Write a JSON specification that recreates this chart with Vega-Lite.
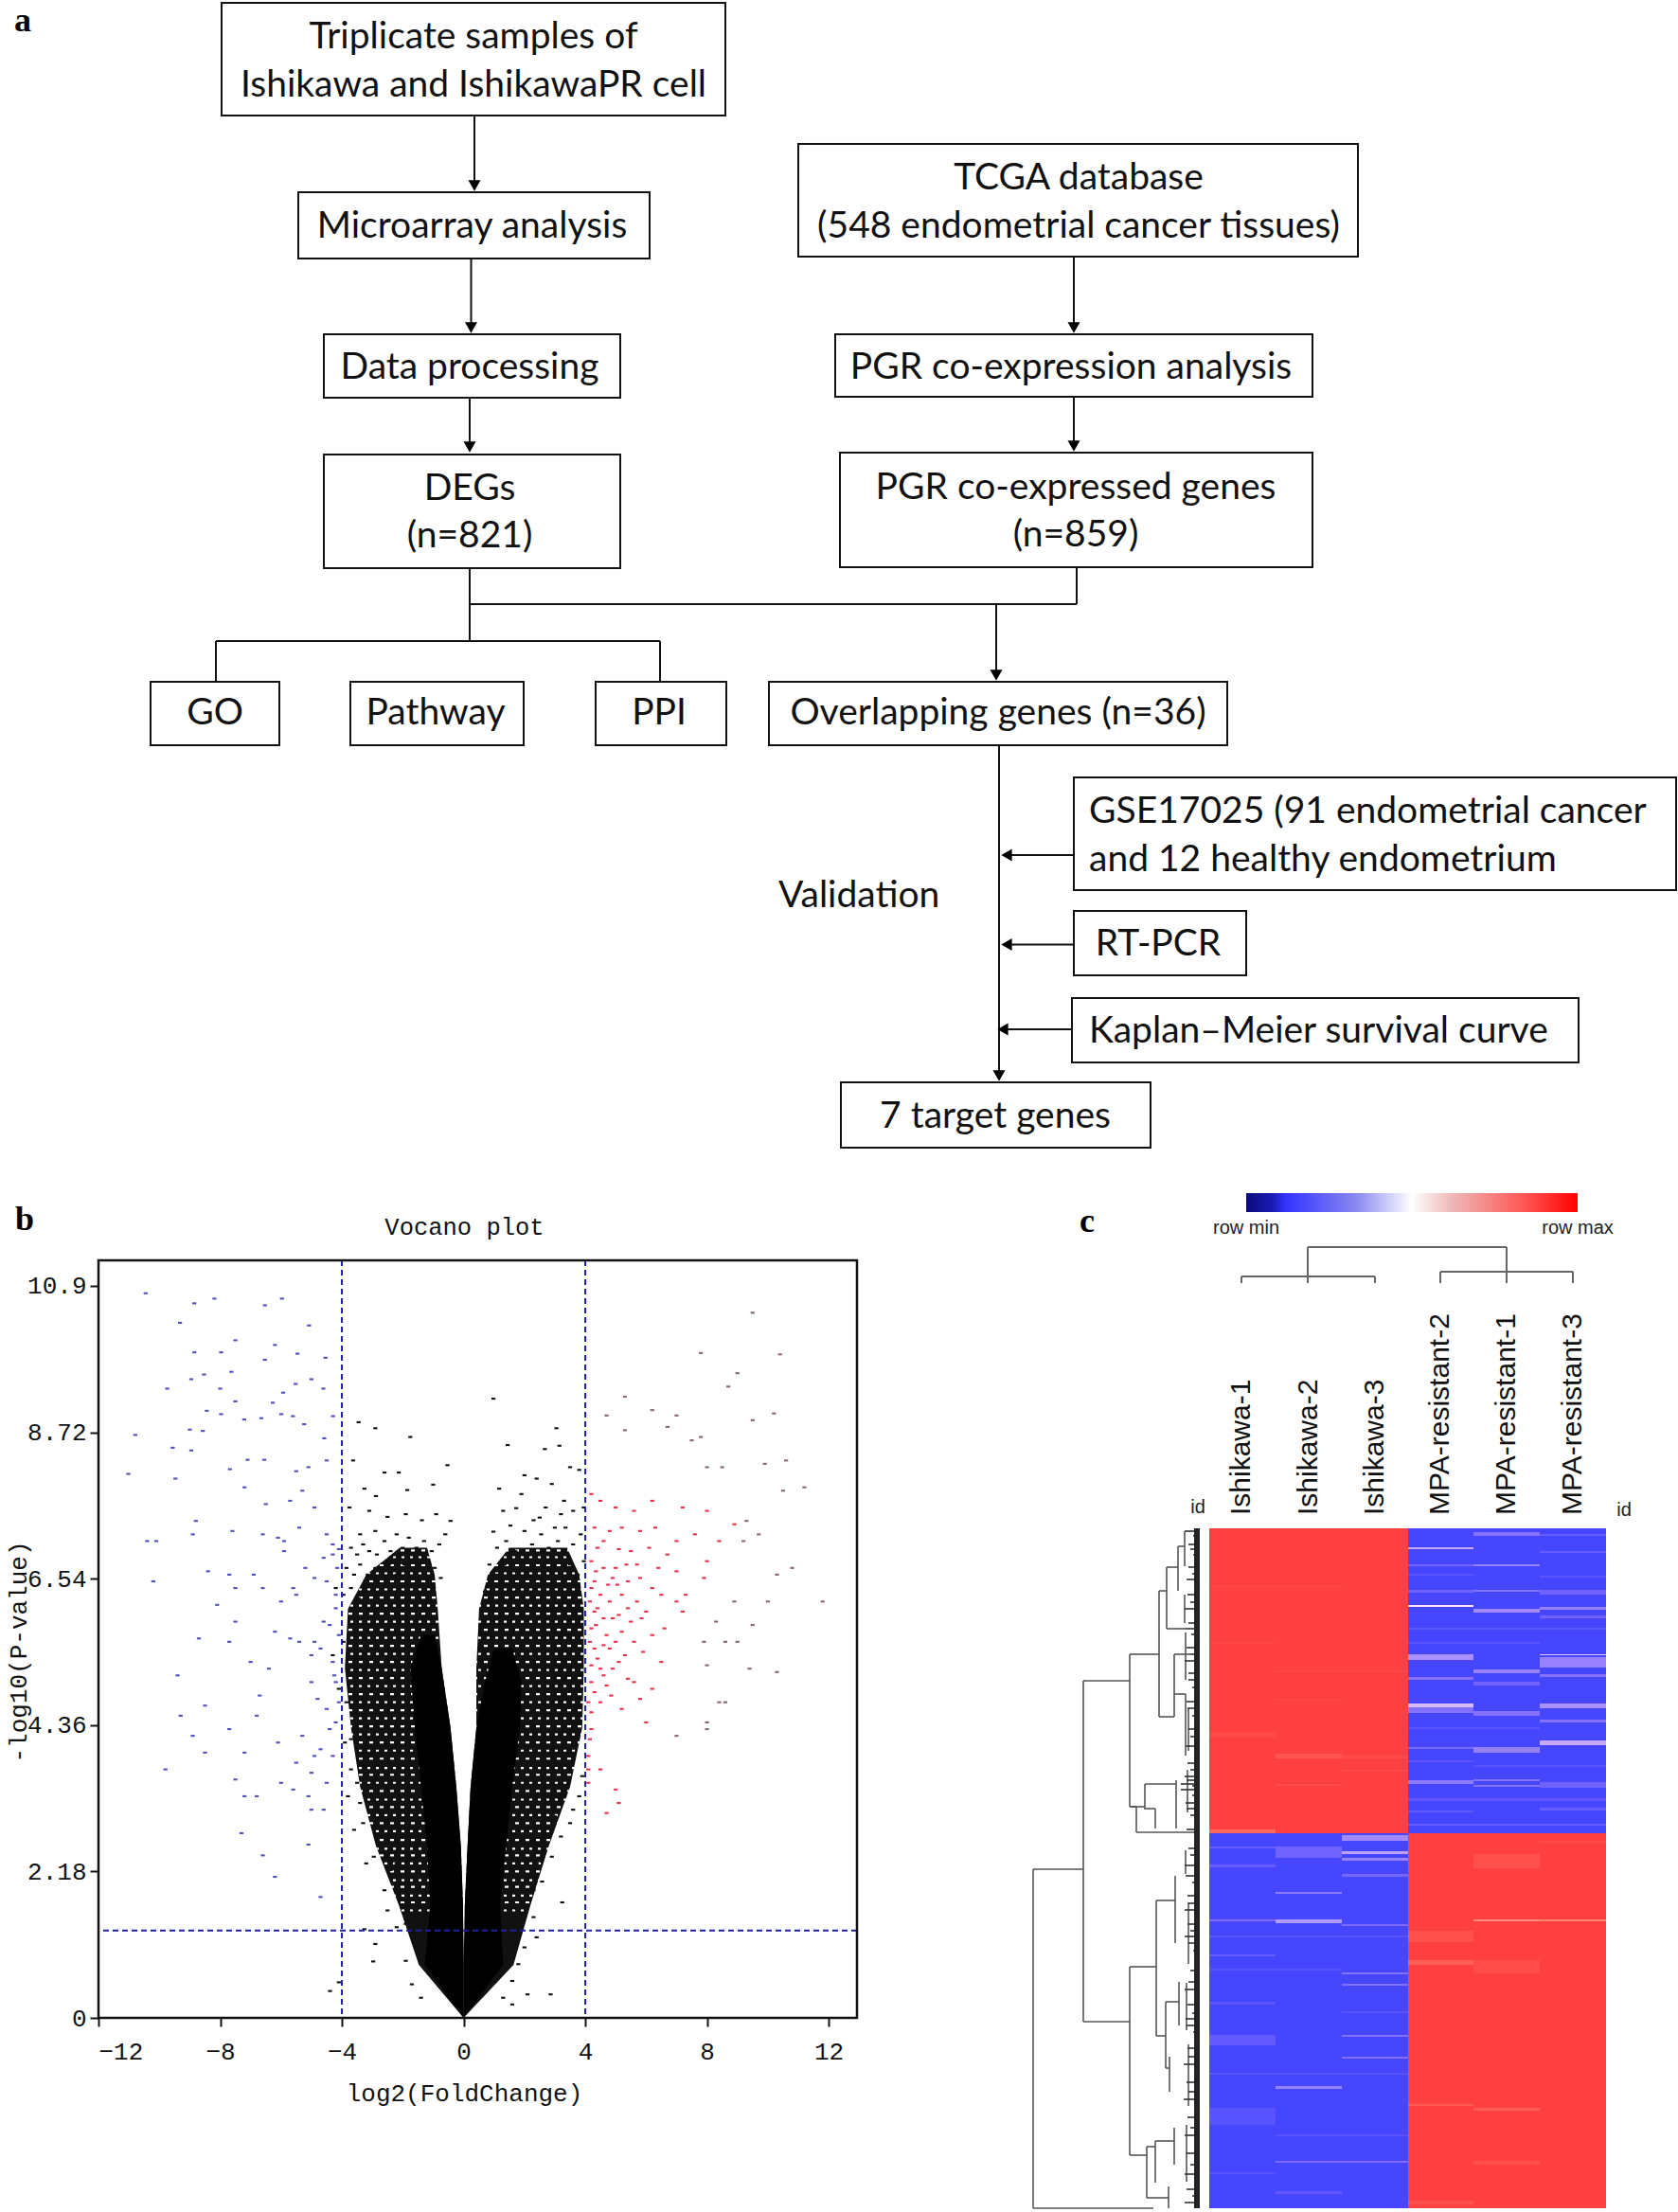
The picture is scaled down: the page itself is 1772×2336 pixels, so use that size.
{"$schema":"https://vega.github.io/schema/vega-lite/v6.json","padding":0,"bounds":"flush","spacing":0,"background":"white","config":{"view":{"stroke":null},"text":{"font":"Lato"}},
"datasets":{
"boxes":[{"a":234,"b":766,"t":3,"u":122},{"a":315,"b":686,"t":203,"u":273},{"a":342,"b":655,"t":353,"u":420},{"a":342,"b":655,"t":480,"u":600},{"a":843,"b":1434,"t":152,"u":271},{"a":882,"b":1386,"t":353,"u":419},{"a":887,"b":1386,"t":478,"u":599},{"a":159,"b":295,"t":720,"u":787},{"a":370,"b":553,"t":720,"u":787},{"a":629,"b":767,"t":720,"u":787},{"a":812,"b":1296,"t":720,"u":787},{"a":1134,"b":1770,"t":821,"u":940},{"a":1134,"b":1316,"t":962,"u":1030},{"a":1132,"b":1667,"t":1054,"u":1122},{"a":888,"b":1215,"t":1143,"u":1212}],
"links":[{"a":501,"b":501,"t":122,"u":195},{"a":497.5,"b":497.5,"t":273,"u":345},{"a":496,"b":496,"t":420,"u":471},{"a":1134,"b":1134,"t":271,"u":345},{"a":1134,"b":1134,"t":419,"u":470},{"a":496,"b":496,"t":600,"u":677},{"a":496,"b":1137,"t":638,"u":638},{"a":1137,"b":1137,"t":599,"u":638},{"a":228,"b":697,"t":677,"u":677},{"a":228,"b":228,"t":677,"u":720},{"a":697,"b":697,"t":677,"u":720},{"a":1052,"b":1052,"t":638,"u":712},{"a":1055,"b":1055,"t":787,"u":1135},{"a":1064,"b":1134,"t":903,"u":903},{"a":1064,"b":1134,"t":997.5,"u":997.5},{"a":1060,"b":1132,"t":1087,"u":1087}],
"heads":[{"x":501,"y":196,"s":"triangle-down"},{"x":497.5,"y":346,"s":"triangle-down"},{"x":496,"y":472,"s":"triangle-down"},{"x":1134,"y":346,"s":"triangle-down"},{"x":1134,"y":471,"s":"triangle-down"},{"x":1052,"y":713,"s":"triangle-down"},{"x":1055,"y":1136,"s":"triangle-down"},{"x":1063,"y":903,"s":"triangle-left"},{"x":1063,"y":997.5,"s":"triangle-left"},{"x":1059,"y":1087,"s":"triangle-left"}],
"labels":[{"x":500,"y":37,"t":"Triplicate samples of"},{"x":500,"y":88,"t":"Ishikawa and IshikawaPR cell"},{"x":498.5,"y":237,"t":"Microarray analysis"},{"x":496,"y":386,"t":"Data processing"},{"x":496,"y":514,"t":"DEGs"},{"x":496,"y":564,"t":"(n=821)"},{"x":1139,"y":186,"t":"TCGA database"},{"x":1139,"y":237,"t":"(548 endometrial cancer tissues)"},{"x":1131,"y":386,"t":"PGR co-expression analysis"},{"x":1136,"y":513,"t":"PGR co-expressed genes"},{"x":1136,"y":563,"t":"(n=859)"},{"x":227,"y":751,"t":"GO"},{"x":460,"y":751,"t":"Pathway"},{"x":696,"y":751,"t":"PPI"},{"x":1054,"y":751,"t":"Overlapping genes (n=36)"},{"x":1223,"y":995,"t":"RT-PCR"},{"x":1051,"y":1177,"t":"7 target genes"}],
"labelsL":[{"x":1150,"y":855,"t":"GSE17025 (91 endometrial cancer"},{"x":1150,"y":906,"t":"and 12 healthy endometrium"},{"x":1150,"y":1087,"t":"Kaplan–Meier survival curve"},{"x":822,"y":944,"t":"Validation"}],
"panels":[{"x":24,"y":22,"t":"a"},{"x":26,"y":1288,"t":"b"},{"x":1148,"y":1290,"t":"c"}],
"env":[
{"l":1,"arm":"L","y":0,"p":0,"q":0},{"l":1,"arm":"L","y":0.79,"p":-1.47,"q":0},{"l":1,"arm":"L","y":1.68,"p":-2.13,"q":-0.02},{"l":1,"arm":"L","y":2.56,"p":-2.88,"q":-0.09},{"l":1,"arm":"L","y":3.44,"p":-3.4,"q":-0.24},{"l":1,"arm":"L","y":4.32,"p":-3.7,"q":-0.43},{"l":1,"arm":"L","y":5.21,"p":-3.9,"q":-0.72},{"l":1,"arm":"L","y":6.09,"p":-3.8,"q":-0.85},{"l":1,"arm":"L","y":6.6,"p":-3.2,"q":-0.95},{"l":1,"arm":"L","y":7,"p":-2.1,"q":-1.2},
{"l":1,"arm":"R","y":0,"p":0,"q":0},{"l":1,"arm":"R","y":0.79,"p":0.05,"q":1.64},{"l":1,"arm":"R","y":1.68,"p":0.04,"q":2.2},{"l":1,"arm":"R","y":2.56,"p":0.13,"q":2.8},{"l":1,"arm":"R","y":3.44,"p":0.23,"q":3.5},{"l":1,"arm":"R","y":4.32,"p":0.42,"q":3.9},{"l":1,"arm":"R","y":5.21,"p":0.42,"q":3.95},{"l":1,"arm":"R","y":6.09,"p":0.51,"q":3.95},{"l":1,"arm":"R","y":6.6,"p":0.8,"q":3.8},{"l":1,"arm":"R","y":7,"p":1.5,"q":3.4},
{"l":3,"arm":"L","y":0,"p":0,"q":0},{"l":3,"arm":"L","y":0.79,"p":-1.28,"q":0},{"l":3,"arm":"L","y":1.68,"p":-1.1,"q":-0.02},{"l":3,"arm":"L","y":2.56,"p":-1.2,"q":-0.09},{"l":3,"arm":"L","y":3.44,"p":-1.4,"q":-0.24},{"l":3,"arm":"L","y":4.32,"p":-1.6,"q":-0.43},{"l":3,"arm":"L","y":5.21,"p":-1.75,"q":-0.72},{"l":3,"arm":"L","y":5.7,"p":-1.4,"q":-0.95},
{"l":3,"arm":"R","y":0,"p":0,"q":0},{"l":3,"arm":"R","y":0.79,"p":0,"q":1.3},{"l":3,"arm":"R","y":1.68,"p":0.04,"q":1.2},{"l":3,"arm":"R","y":2.56,"p":0.13,"q":1.4},{"l":3,"arm":"R","y":3.44,"p":0.23,"q":1.6},{"l":3,"arm":"R","y":4.32,"p":0.42,"q":1.85},{"l":3,"arm":"R","y":5,"p":0.7,"q":1.9},{"l":3,"arm":"R","y":5.5,"p":1,"q":1.6}],
"speckA":[{"y":1.6},{"y":1.82},{"y":2.05},{"y":2.3},{"y":2.52},{"y":2.78},{"y":3.02},{"y":3.25},{"y":3.5},{"y":3.72},{"y":3.98},{"y":4.22},{"y":4.46},{"y":4.7},{"y":4.94},{"y":5.18},{"y":5.42},{"y":5.66},{"y":5.9},{"y":6.14},{"y":6.38},{"y":6.62},{"y":6.86}],
"speckB":[{"y":1.72},{"y":1.95},{"y":2.18},{"y":2.42},{"y":2.65},{"y":2.9},{"y":3.14},{"y":3.38},{"y":3.62},{"y":3.86},{"y":4.1},{"y":4.34},{"y":4.58},{"y":4.82},{"y":5.06},{"y":5.3},{"y":5.54},{"y":5.78},{"y":6.02},{"y":6.26},{"y":6.5},{"y":6.74},{"y":6.96}],
"blue":[{"x":-10.45,"y":10.79},{"x":-8.85,"y":10.64},{"x":-8.19,"y":10.71},{"x":-6.53,"y":10.61},{"x":-5.97,"y":10.71},{"x":-9.32,"y":10.35},{"x":-5.08,"y":10.31},{"x":-7.5,"y":10.09},{"x":-6.2,"y":10.02},{"x":-8.85,"y":9.91},{"x":-7.97,"y":9.91},{"x":-6.53,"y":9.8},{"x":-5.46,"y":9.89},{"x":-4.54,"y":9.83},{"x":-8.95,"y":9.51},{"x":-8.53,"y":9.58},{"x":-7.63,"y":9.62},{"x":-9.74,"y":9.37},{"x":-8,"y":9.37},{"x":-5.52,"y":9.44},{"x":-5,"y":9.51},{"x":-5.93,"y":9.31},{"x":-4.61,"y":9.37},{"x":-7.5,"y":9.18},{"x":-6.27,"y":9.16},{"x":-8.44,"y":9.04},{"x":-7.97,"y":8.99},{"x":-7.21,"y":8.91},{"x":-6.65,"y":8.93},{"x":-5.99,"y":8.99},{"x":-5.61,"y":8.96},{"x":-5.24,"y":8.84},{"x":-4.29,"y":8.96},{"x":-10.79,"y":8.68},{"x":-9,"y":8.76},{"x":-8.57,"y":8.74},{"x":-4.58,"y":8.63},{"x":-9.56,"y":8.49},{"x":-8.95,"y":8.45},{"x":-7.1,"y":8.31},{"x":-6.55,"y":8.31},{"x":-11.02,"y":8.1},{"x":-9.47,"y":8.03},{"x":-7.68,"y":8.17},{"x":-5.5,"y":8.14},{"x":-5.1,"y":8.2},{"x":-4.5,"y":8.3},{"x":-5.3,"y":7.85},{"x":-5.7,"y":7.7},{"x":-4.9,"y":7.6},{"x":-7.2,"y":7.9},{"x":-6.5,"y":7.65},{"x":-8.8,"y":7.4},{"x":-8.9,"y":7.2},{"x":-7.6,"y":7.25},{"x":-6.6,"y":7.2},{"x":-6.1,"y":7.15},{"x":-5.9,"y":7.1},{"x":-5.4,"y":7.3},{"x":-4.5,"y":7.2},{"x":-4.3,"y":7.05},{"x":-4.1,"y":6.98},{"x":-10.4,"y":7.1},{"x":-10.1,"y":7.1},{"x":-8.4,"y":6.65},{"x":-7.7,"y":6.6},{"x":-6.9,"y":6.6},{"x":-5.2,"y":6.7},{"x":-4.9,"y":6.55},{"x":-4.5,"y":6.5},{"x":-10.2,"y":6.5},{"x":-7.5,"y":6.4},{"x":-6.6,"y":6.4},{"x":-6,"y":6.2},{"x":-5.5,"y":6.3},{"x":-4.2,"y":6.1},{"x":-8.1,"y":6.15},{"x":-7.5,"y":5.9},{"x":-4.6,"y":5.9},{"x":-4.4,"y":5.85},{"x":-8.7,"y":5.65},{"x":-7.7,"y":5.6},{"x":-6.2,"y":5.75},{"x":-5.7,"y":5.65},{"x":-5.4,"y":5.6},{"x":-4.9,"y":5.6},{"x":-5,"y":5.4},{"x":-4.3,"y":5.3},{"x":-7,"y":5.3},{"x":-9.4,"y":5.1},{"x":-6.4,"y":5.2},{"x":-5,"y":5},{"x":-4.2,"y":5},{"x":-6.7,"y":4.8},{"x":-8.5,"y":4.65},{"x":-6.8,"y":4.5},{"x":-4.5,"y":4.6},{"x":-9.3,"y":4.5},{"x":-7.7,"y":4.3},{"x":-4.2,"y":4.4},{"x":-8.9,"y":4.2},{"x":-6.1,"y":4.1},{"x":-5.3,"y":4.2},{"x":-4.7,"y":4},{"x":-8.5,"y":3.95},{"x":-7.2,"y":3.95},{"x":-5.5,"y":3.8},{"x":-5,"y":3.65},{"x":-9.8,"y":3.7},{"x":-7.5,"y":3.55},{"x":-6,"y":3.5},{"x":-5.6,"y":3.4},{"x":-5.1,"y":3.3},{"x":-7.2,"y":3.3},{"x":-6.8,"y":3.3},{"x":-5,"y":3.1},{"x":-4.6,"y":3.1},{"x":-7.3,"y":2.75},{"x":-6.6,"y":2.42},{"x":-5.1,"y":2.58},{"x":-6.2,"y":2.1},{"x":-4.7,"y":1.8},{"x":-4.3,"y":6.9},{"x":-4.15,"y":6.7},{"x":-4.6,"y":6.85},{"x":-4.2,"y":6.3},{"x":-4.1,"y":5.7},{"x":-4.7,"y":5.5},{"x":-4.25,"y":5.1},{"x":-4.1,"y":4.7},{"x":-4.8,"y":4.75},{"x":-4.4,"y":4.3},{"x":-4.3,"y":3.9},{"x":-4.9,"y":3.9},{"x":-4.5,"y":3.5},{"x":-5.9,"y":6.95},{"x":-5.6,"y":6.4}],
"red":[{"x":4.2,"y":7.8},{"x":4.5,"y":7.7},{"x":5,"y":7.6},{"x":5.6,"y":7.55},{"x":6.2,"y":7.7},{"x":7.2,"y":7.6},{"x":8,"y":7.55},{"x":8.9,"y":7.35},{"x":4.3,"y":7.3},{"x":4.8,"y":7.25},{"x":5.2,"y":7.3},{"x":5.8,"y":7.25},{"x":6.3,"y":7.3},{"x":7,"y":7.1},{"x":7.6,"y":7.2},{"x":8.4,"y":7.1},{"x":4.4,"y":7},{"x":5.1,"y":6.98},{"x":5.5,"y":6.95},{"x":6.1,"y":7},{"x":6.7,"y":6.9},{"x":8,"y":6.8},{"x":4.2,"y":6.8},{"x":4.6,"y":6.7},{"x":5,"y":6.7},{"x":5.7,"y":6.75},{"x":6.4,"y":6.7},{"x":7,"y":6.65},{"x":7.9,"y":6.55},{"x":4.3,"y":6.5},{"x":4.9,"y":6.55},{"x":5.4,"y":6.5},{"x":5.8,"y":6.55},{"x":6.2,"y":6.4},{"x":4.2,"y":6.4},{"x":4.5,"y":6.3},{"x":4.8,"y":6.2},{"x":5.2,"y":6.3},{"x":5.7,"y":6.2},{"x":6.5,"y":6.3},{"x":7,"y":6.2},{"x":7.3,"y":6.3},{"x":4.3,"y":6.05},{"x":4.6,"y":5.95},{"x":5.1,"y":6},{"x":5.5,"y":5.9},{"x":6,"y":6.05},{"x":4.2,"y":5.8},{"x":4.7,"y":5.7},{"x":5.2,"y":5.75},{"x":5.6,"y":5.6},{"x":6.2,"y":5.7},{"x":4.3,"y":5.5},{"x":4.8,"y":5.5},{"x":5.3,"y":5.4},{"x":5.9,"y":5.45},{"x":6.5,"y":5.3},{"x":4.2,"y":5.25},{"x":4.5,"y":5.2},{"x":4.9,"y":5.2},{"x":5.4,"y":5.05},{"x":5.6,"y":5},{"x":4.2,"y":5},{"x":4.7,"y":4.95},{"x":6.2,"y":4.9},{"x":4.1,"y":4.7},{"x":4.5,"y":4.7},{"x":5.2,"y":4.6},{"x":6,"y":4.4},{"x":4.2,"y":4.3},{"x":4.1,"y":3.9},{"x":4.1,"y":3.7},{"x":4.1,"y":3.5},{"x":4.5,"y":3.7},{"x":5,"y":3.4},{"x":5.1,"y":3.2},{"x":4.7,"y":3.05},{"x":4.35,"y":6.65},{"x":4.75,"y":6.45},{"x":4.15,"y":6.2},{"x":4.4,"y":6.1},{"x":4.9,"y":5.95},{"x":4.35,"y":5.85},{"x":4.6,"y":5.55},{"x":5,"y":5.6},{"x":4.15,"y":5.6},{"x":4.4,"y":5.35},{"x":5.1,"y":5.3},{"x":4.6,"y":5.1},{"x":4.3,"y":4.85},{"x":4.85,"y":4.8},{"x":5.4,"y":6.1},{"x":5.85,"y":5.95},{"x":5.05,"y":6.45},{"x":4.6,"y":7.1},{"x":5.35,"y":6.75},{"x":6.6,"y":5.8},{"x":7.2,"y":6.05},{"x":5.8,"y":4.75},{"x":4.2,"y":4.55},{"x":4.15,"y":4.15}],
"grey":[{"x":9.5,"y":10.5},{"x":7.8,"y":9.9},{"x":10.4,"y":9.88},{"x":9,"y":9.6},{"x":8.7,"y":9.4},{"x":5.3,"y":9.25},{"x":6.2,"y":9.05},{"x":4.7,"y":8.97},{"x":7,"y":8.97},{"x":9.5,"y":8.9},{"x":10.2,"y":9},{"x":6.7,"y":8.8},{"x":5.3,"y":8.75},{"x":7.5,"y":8.6},{"x":7.8,"y":8.65},{"x":10.6,"y":8.3},{"x":9.9,"y":8.25},{"x":8.5,"y":8.2},{"x":8,"y":8.2},{"x":10.5,"y":7.85},{"x":11.2,"y":7.9},{"x":9.3,"y":7.4},{"x":9.7,"y":7.2},{"x":9.2,"y":7.1},{"x":10.3,"y":6.6},{"x":10.8,"y":6.7},{"x":10,"y":6.2},{"x":11.8,"y":6.2},{"x":8.9,"y":6.2},{"x":8.3,"y":5.9},{"x":9.5,"y":5.85},{"x":7.9,"y":5.6},{"x":8.6,"y":5.6},{"x":9,"y":5.6},{"x":8,"y":5.25},{"x":9.4,"y":5.2},{"x":10.3,"y":5.15},{"x":8.4,"y":4.7},{"x":8.6,"y":4.7},{"x":8,"y":4.4},{"x":8,"y":4.3},{"x":7,"y":4.2}],
"black":[{"x":-3.45,"y":8.87},{"x":-2.9,"y":8.78},{"x":-1.75,"y":8.65},{"x":0.98,"y":9.22},{"x":1.45,"y":8.53},{"x":2.67,"y":8.47},{"x":3.05,"y":8.78},{"x":3.15,"y":8.52},{"x":-0.53,"y":8.23},{"x":-3.63,"y":8.3},{"x":-3.26,"y":7.88},{"x":-2.88,"y":7.77},{"x":-2.6,"y":8.12},{"x":-2.13,"y":8.12},{"x":-1,"y":7.94},{"x":-1.85,"y":7.86},{"x":1.17,"y":7.88},{"x":2,"y":8.08},{"x":2.4,"y":8.03},{"x":3.5,"y":8.2},{"x":3.8,"y":8.16},{"x":1.73,"y":7.59},{"x":2.3,"y":7.41},{"x":0.98,"y":7.24},{"x":1.54,"y":7.33},{"x":-2.5,"y":7.46},{"x":-1.37,"y":7.41},{"x":-0.43,"y":7.4},{"x":-3.1,"y":7.55},{"x":-3.4,"y":7.2},{"x":-2.9,"y":7.25},{"x":-1.9,"y":7.5},{"x":-0.9,"y":7.5},{"x":-0.6,"y":7.2},{"x":-3.75,"y":7.6},{"x":2.9,"y":7.95},{"x":3.3,"y":7.7},{"x":3.6,"y":7.55},{"x":2.7,"y":7.6},{"x":1.9,"y":7.8},{"x":1.3,"y":7.55},{"x":3,"y":7.3},{"x":-4.3,"y":5.4},{"x":-4.2,"y":6.4},{"x":-4.1,"y":4.9},{"x":-3.9,"y":4.1},{"x":-3.7,"y":3.7},{"x":-3.8,"y":3.3},{"x":-3.4,"y":3.2},{"x":-3.3,"y":2.9},{"x":-3.6,"y":2.8},{"x":-2.95,"y":2.4},{"x":-3.2,"y":2.3},{"x":-2.6,"y":1.9},{"x":-2.5,"y":1.6},{"x":-2.2,"y":1.35},{"x":-3.26,"y":1.32},{"x":-2.97,"y":0.84},{"x":-4.39,"y":0.4},{"x":-4.1,"y":0.53},{"x":-1.9,"y":0.85},{"x":-1.7,"y":0.5},{"x":-1.4,"y":0.3},{"x":1.3,"y":0.3},{"x":1.6,"y":0.55},{"x":1.8,"y":0.8},{"x":1.6,"y":0.2},{"x":2.1,"y":0.35},{"x":2.86,"y":0.35},{"x":2.58,"y":2.03},{"x":3.24,"y":1.72},{"x":2.3,"y":1.5},{"x":2.4,"y":1.2},{"x":2,"y":1.05},{"x":2.9,"y":2.4},{"x":2.5,"y":2.6},{"x":3.2,"y":2.7},{"x":3,"y":3},{"x":3.6,"y":3.1},{"x":3.8,"y":3.3},{"x":3.9,"y":3.6},{"x":3.3,"y":3.3},{"x":3.5,"y":2.9},{"x":2.3,"y":1.9},{"x":-2.4,"y":2.2},{"x":-2.7,"y":2.7},{"x":-2.9,"y":1.1},{"x":-1.9,"y":1.4},
{"x":-3.7,"y":7},{"x":-3.5,"y":6.9},{"x":-3.3,"y":7.05},{"x":-3.1,"y":6.95},{"x":-2.85,"y":6.9},{"x":-2.6,"y":7.1},{"x":-2.4,"y":6.95},{"x":-2.2,"y":7.2},{"x":-2,"y":7},{"x":-1.8,"y":7.15},{"x":-1.55,"y":7},{"x":-1.3,"y":7.1},{"x":-1.05,"y":6.95},{"x":-0.8,"y":7.05},{"x":-3.85,"y":6.7},{"x":-3.6,"y":6.6},{"x":-3.4,"y":6.75},{"x":-3.15,"y":6.6},{"x":-2.9,"y":6.7},{"x":-2.65,"y":6.55},{"x":-2.45,"y":6.75},{"x":-2.2,"y":6.6},{"x":-1.95,"y":6.75},{"x":-1.7,"y":6.55},{"x":-1.45,"y":6.75},{"x":-1.2,"y":6.55},{"x":-0.95,"y":6.7},{"x":-0.75,"y":6.55},{"x":-3.95,"y":6.3},{"x":-3.7,"y":6.4},{"x":-3.45,"y":6.25},{"x":-3.2,"y":6.35},{"x":-2.95,"y":6.2},{"x":-3.95,"y":5.6},{"x":-3.85,"y":4.7},{"x":-3.7,"y":4.15},{"x":-3.5,"y":3.5},{"x":-3,"y":3},{"x":-2.6,"y":3.05},{"x":-2.4,"y":2.7},{"x":-2.2,"y":2.3},{"x":-1.85,"y":1.9},
{"x":1.1,"y":7},{"x":1.4,"y":7.1},{"x":1.7,"y":6.95},{"x":2,"y":7.25},{"x":2.25,"y":7.05},{"x":2.55,"y":7.2},{"x":2.8,"y":7},{"x":3.1,"y":7.1},{"x":3.35,"y":7.3},{"x":3.6,"y":7.05},{"x":3.85,"y":7.2},{"x":3.95,"y":7.6},{"x":3.2,"y":7.5},{"x":2.5,"y":7.45},{"x":0.85,"y":6.75},{"x":1.1,"y":6.6},{"x":1.35,"y":6.75},{"x":3.5,"y":6.75},{"x":3.75,"y":6.6},{"x":3.95,"y":6.8},{"x":0.7,"y":6.35},{"x":0.95,"y":6.2},{"x":2.8,"y":3.8},{"x":3.1,"y":3.65},{"x":2.7,"y":3.2},{"x":2.55,"y":2.95},{"x":2.4,"y":2.3},{"x":2.05,"y":1.65}],
"heat":[{"a":0,"b":210,"t":0,"u":322,"v":1},{"a":210,"b":419,"t":0,"u":322,"v":-1},{"a":0,"b":210,"t":322,"u":718,"v":-1},{"a":210,"b":419,"t":322,"u":718,"v":1},
{"a":279,"b":349,"t":4,"u":8,"v":-0.7},{"a":210,"b":279,"t":20,"u":22,"v":-0.35},{"a":210,"b":279,"t":81,"u":83,"v":-0.02},{"a":279,"b":349,"t":38,"u":40,"v":-0.6},{"a":279,"b":349,"t":65,"u":67,"v":-0.7},{"a":349,"b":419,"t":65,"u":70,"v":-0.8},{"a":279,"b":349,"t":85,"u":89,"v":-0.55},{"a":349,"b":419,"t":83,"u":86,"v":-0.6},{"a":349,"b":419,"t":92,"u":95,"v":-0.8},{"a":210,"b":279,"t":65,"u":68,"v":-0.8},{"a":349,"b":419,"t":6,"u":8,"v":-0.85},{"a":349,"b":419,"t":24,"u":26,"v":-0.85},{"a":210,"b":279,"t":38,"u":40,"v":-0.8},
{"a":210,"b":279,"t":133,"u":139,"v":-0.5},{"a":349,"b":419,"t":133,"u":134,"v":-0.2},{"a":349,"b":419,"t":136,"u":147,"v":-0.6},{"a":279,"b":349,"t":149,"u":153,"v":-0.6},{"a":210,"b":279,"t":157,"u":160,"v":-0.7},{"a":349,"b":419,"t":154,"u":157,"v":-0.7},{"a":279,"b":349,"t":162,"u":166,"v":-0.8},{"a":210,"b":279,"t":185,"u":189,"v":-0.25},{"a":210,"b":279,"t":189,"u":195,"v":-0.7},{"a":349,"b":419,"t":185,"u":190,"v":-0.5},{"a":279,"b":349,"t":193,"u":198,"v":-0.7},{"a":349,"b":419,"t":202,"u":205,"v":-0.7},{"a":349,"b":419,"t":224,"u":229,"v":-0.35},{"a":210,"b":279,"t":231,"u":233,"v":-0.75},{"a":279,"b":349,"t":231,"u":237,"v":-0.6},{"a":210,"b":279,"t":266,"u":270,"v":-0.65},{"a":279,"b":349,"t":265,"u":267,"v":-0.7},{"a":279,"b":349,"t":271,"u":273,"v":-0.7},{"a":349,"b":419,"t":268,"u":274,"v":-0.8},{"a":210,"b":419,"t":285,"u":288,"v":-0.88},{"a":210,"b":279,"t":298,"u":300,"v":-0.88},{"a":349,"b":419,"t":295,"u":298,"v":-0.85},{"a":210,"b":419,"t":312,"u":314,"v":-0.85},{"a":210,"b":419,"t":105,"u":107,"v":-0.9},{"a":210,"b":349,"t":120,"u":122,"v":-0.9},{"a":210,"b":279,"t":48,"u":50,"v":-0.9},{"a":349,"b":419,"t":50,"u":52,"v":-0.9},{"a":210,"b":349,"t":210,"u":212,"v":-0.92},{"a":279,"b":419,"t":250,"u":252,"v":-0.92},{"a":210,"b":279,"t":245,"u":247,"v":-0.9},
{"a":0,"b":70,"t":120,"u":122,"v":0.94},{"a":70,"b":140,"t":238,"u":243,"v":0.85},{"a":140,"b":210,"t":240,"u":243,"v":0.93},{"a":0,"b":70,"t":215,"u":220,"v":0.93},{"a":70,"b":140,"t":270,"u":272,"v":0.9},{"a":0,"b":70,"t":318,"u":322,"v":0.7},{"a":70,"b":210,"t":150,"u":152,"v":0.95},{"a":0,"b":140,"t":60,"u":62,"v":0.95},{"a":70,"b":140,"t":180,"u":182,"v":0.94},{"a":140,"b":210,"t":255,"u":257,"v":0.94},
{"a":140,"b":210,"t":324,"u":330,"v":-0.55},{"a":70,"b":140,"t":336,"u":348,"v":-0.8},{"a":140,"b":210,"t":341,"u":344,"v":-0.4},{"a":140,"b":210,"t":348,"u":351,"v":-0.6},{"a":0,"b":70,"t":355,"u":358,"v":-0.85},{"a":70,"b":140,"t":384,"u":386,"v":-0.65},{"a":140,"b":210,"t":365,"u":368,"v":-0.78},{"a":0,"b":70,"t":336,"u":338,"v":-0.85},{"a":70,"b":140,"t":413,"u":417,"v":-0.45},{"a":140,"b":210,"t":418,"u":420,"v":-0.75},{"a":0,"b":70,"t":413,"u":415,"v":-0.75},{"a":0,"b":70,"t":535,"u":546,"v":-0.86},{"a":140,"b":210,"t":535,"u":537,"v":-0.7},{"a":140,"b":210,"t":558,"u":560,"v":-0.7},{"a":70,"b":140,"t":589,"u":592,"v":-0.6},{"a":0,"b":70,"t":612,"u":630,"v":-0.92},{"a":70,"b":210,"t":668,"u":670,"v":-0.75},{"a":140,"b":210,"t":469,"u":471,"v":-0.7},{"a":140,"b":210,"t":481,"u":483,"v":-0.7},{"a":0,"b":70,"t":450,"u":452,"v":-0.85},{"a":70,"b":140,"t":700,"u":703,"v":-0.88},{"a":0,"b":210,"t":430,"u":432,"v":-0.9},{"a":0,"b":140,"t":465,"u":467,"v":-0.92},{"a":0,"b":70,"t":500,"u":503,"v":-0.9},{"a":140,"b":210,"t":510,"u":512,"v":-0.9},{"a":0,"b":210,"t":575,"u":577,"v":-0.92},{"a":70,"b":210,"t":640,"u":642,"v":-0.92},{"a":0,"b":70,"t":680,"u":682,"v":-0.9},
{"a":279,"b":349,"t":413,"u":415,"v":0.4},{"a":349,"b":419,"t":413,"u":415,"v":0.5},{"a":279,"b":349,"t":344,"u":359,"v":0.88},{"a":279,"b":349,"t":612,"u":615,"v":0.78},{"a":210,"b":279,"t":425,"u":437,"v":0.88},{"a":210,"b":279,"t":456,"u":461,"v":0.78},{"a":279,"b":349,"t":456,"u":470,"v":0.9},{"a":210,"b":279,"t":608,"u":610,"v":0.82},{"a":279,"b":349,"t":668,"u":672,"v":0.88},{"a":210,"b":279,"t":710,"u":714,"v":0.88},{"a":349,"b":419,"t":330,"u":332,"v":0.92}],
"seg":[{"a":-186,"b":-186,"t":360,"u":718},{"a":-186,"b":-133,"t":360,"u":360},{"a":-186,"b":-59,"t":718,"u":718},{"a":-133,"b":-133,"t":161,"u":521},{"a":-133,"b":-84,"t":161,"u":161},{"a":-133,"b":-84,"t":521,"u":521},{"a":-84,"b":-84,"t":133,"u":294},{"a":-84,"b":-53,"t":133,"u":133},{"a":-53,"b":-53,"t":66,"u":199},{"a":-53,"b":-45,"t":66,"u":66},{"a":-45,"b":-45,"t":41,"u":106},{"a":-45,"b":-33,"t":41,"u":41},{"a":-33,"b":-33,"t":19,"u":66},{"a":-33,"b":-26,"t":19,"u":19},{"a":-26,"b":-26,"t":3,"u":40},{"a":-45,"b":-25,"t":106,"u":106},{"a":-53,"b":-37,"t":199,"u":199},{"a":-37,"b":-37,"t":133,"u":199},{"a":-37,"b":-20,"t":133,"u":133},{"a":-37,"b":-25,"t":175,"u":175},{"a":-25,"b":-25,"t":175,"u":240},{"a":-84,"b":-68,"t":294,"u":294},{"a":-68,"b":-68,"t":270,"u":297},{"a":-68,"b":-35,"t":270,"u":270},{"a":-35,"b":-35,"t":266,"u":317},{"a":-68,"b":-57,"t":296,"u":296},{"a":-57,"b":-57,"t":296,"u":317},{"a":-77,"b":-77,"t":294,"u":321},{"a":-77,"b":-14,"t":321,"u":321},{"a":-84,"b":-77,"t":294,"u":294},{"a":-84,"b":-84,"t":463,"u":662},{"a":-84,"b":-56,"t":463,"u":463},{"a":-84,"b":-66,"t":662,"u":662},{"a":-56,"b":-56,"t":393,"u":536},{"a":-56,"b":-36,"t":393,"u":393},{"a":-36,"b":-36,"t":367,"u":438},{"a":-56,"b":-46,"t":536,"u":536},{"a":-46,"b":-46,"t":500,"u":570},{"a":-46,"b":-32,"t":500,"u":500},{"a":-32,"b":-32,"t":479,"u":525},{"a":-46,"b":-42,"t":570,"u":570},{"a":-42,"b":-42,"t":558,"u":595},{"a":-66,"b":-66,"t":653,"u":707},{"a":-66,"b":-57,"t":653,"u":653},{"a":-57,"b":-57,"t":647,"u":691},{"a":-57,"b":-37,"t":647,"u":647},{"a":-37,"b":-37,"t":633,"u":672},{"a":-66,"b":-43,"t":707,"u":707},{"a":-43,"b":-43,"t":695,"u":718},{"a":-26,"b":-26,"t":70,"u":100},{"a":-25,"b":-25,"t":110,"u":160},{"a":-22,"b":-22,"t":190,"u":235},{"a":-23,"b":-23,"t":255,"u":300},{"a":-25,"b":-25,"t":340,"u":365},{"a":-22,"b":-22,"t":395,"u":460},{"a":-24,"b":-24,"t":480,"u":530},{"a":-22,"b":-22,"t":545,"u":610},{"a":-24,"b":-24,"t":630,"u":690}],
"leaf":[{"y":3,"a":-26},{"y":8,"a":-17},{"y":12,"a":-15},{"y":17,"a":-22},{"y":22,"a":-20},{"y":28,"a":-17},{"y":34,"a":-12},{"y":41,"a":-22},{"y":48,"a":-18},{"y":54,"a":-24},{"y":60,"a":-13},{"y":70,"a":-23},{"y":78,"a":-20},{"y":85,"a":-26},{"y":92,"a":-15},{"y":100,"a":-22},{"y":106,"a":-25},{"y":112,"a":-19},{"y":118,"a":-14},{"y":126,"a":-24},{"y":133,"a":-20},{"y":140,"a":-26},{"y":146,"a":-16},{"y":153,"a":-22},{"y":160,"a":-22},{"y":168,"a":-18},{"y":175,"a":-14},{"y":183,"a":-24},{"y":190,"a":-23},{"y":198,"a":-18},{"y":205,"a":-15},{"y":212,"a":-22},{"y":220,"a":-20},{"y":230,"a":-25},{"y":240,"a":-13},{"y":248,"a":-23},{"y":255,"a":-20},{"y":262,"a":-26},{"y":266,"a":-24},{"y":270,"a":-30},{"y":272,"a":-18},{"y":276,"a":-30},{"y":282,"a":-18},{"y":290,"a":-25},{"y":296,"a":-24},{"y":303,"a":-20},{"y":310,"a":-16},{"y":318,"a":-24},{"y":330,"a":-13},{"y":338,"a":-22},{"y":345,"a":-20},{"y":356,"a":-26},{"y":367,"a":-25},{"y":374,"a":-18},{"y":380,"a":-15},{"y":388,"a":-23},{"y":396,"a":-22},{"y":403,"a":-26},{"y":410,"a":-16},{"y":418,"a":-23},{"y":425,"a":-20},{"y":431,"a":-26},{"y":438,"a":-22},{"y":446,"a":-17},{"y":455,"a":-12},{"y":467,"a":-20},{"y":479,"a":-22},{"y":487,"a":-26},{"y":495,"a":-15},{"y":503,"a":-23},{"y":512,"a":-18},{"y":518,"a":-25},{"y":525,"a":-24},{"y":532,"a":-17},{"y":540,"a":-14},{"y":549,"a":-23},{"y":558,"a":-22},{"y":566,"a":-27},{"y":575,"a":-16},{"y":585,"a":-24},{"y":595,"a":-22},{"y":603,"a":-27},{"y":612,"a":-15},{"y":622,"a":-23},{"y":633,"a":-20},{"y":641,"a":-26},{"y":650,"a":-14},{"y":660,"a":-24},{"y":672,"a":-20},{"y":682,"a":-26},{"y":691,"a":-16},{"y":698,"a":-24},{"y":705,"a":-18},{"y":712,"a":-26}],
"dgram":[{"a":34,"b":175,"t":-266,"u":-266},{"a":104,"b":314,"t":-297,"u":-297},{"a":104,"b":104,"t":-297,"u":-259},{"a":34,"b":34,"t":-266,"u":-259},{"a":175,"b":175,"t":-266,"u":-259},{"a":244,"b":384,"t":-271,"u":-271},{"a":314,"b":314,"t":-297,"u":-259},{"a":244,"b":244,"t":-271,"u":-259},{"a":384,"b":384,"t":-271,"u":-259}],
"cols":[{"x":34,"y":-14,"t":"Ishikawa-1"},{"x":105,"y":-14,"t":"Ishikawa-2"},{"x":175,"y":-14,"t":"Ishikawa-3"},{"x":244,"y":-14,"t":"MPA-resistant-2"},{"x":314,"y":-14,"t":"MPA-resistant-1"},{"x":384,"y":-14,"t":"MPA-resistant-3"}],
"notes":[{"x":39,"y":-317,"t":"row min"},{"x":389,"y":-317,"t":"row max"},{"x":-12,"y":-22,"t":"id"},{"x":438,"y":-19,"t":"id"}]
},
"vconcat":[
{"width":1668,"height":1331,
"layer":[
{"data":{"values":[{"a":0,"b":1,"t":600,"u":601}]},"mark":{"type":"rect","opacity":0},"encoding":{"x":{"field":"a","type":"quantitative","scale":{"domain":[104,1772],"nice":false,"zero":false},"axis":null},"x2":{"field":"b"},"y":{"field":"t","type":"quantitative","scale":{"domain":[0,1331],"reverse":true,"nice":false,"zero":false},"axis":null},"y2":{"field":"u"}}},
{"data":{"name":"boxes"},"mark":{"type":"rect","fill":"white","stroke":"#111","strokeWidth":2},"encoding":{"x":{"field":"a","type":"quantitative"},"x2":{"field":"b"},"y":{"field":"t","type":"quantitative"},"y2":{"field":"u"}}},
{"data":{"name":"links"},"mark":{"type":"rule","color":"#111","strokeWidth":2},"encoding":{"x":{"field":"a","type":"quantitative"},"x2":{"field":"b"},"y":{"field":"t","type":"quantitative"},"y2":{"field":"u"}}},
{"data":{"name":"heads"},"mark":{"type":"point","filled":true,"color":"#000","opacity":1,"size":170},"encoding":{"x":{"field":"x","type":"quantitative"},"y":{"field":"y","type":"quantitative"},"shape":{"field":"s","type":"nominal","scale":null}}},
{"data":{"name":"labels"},"mark":{"type":"text","font":"Lato","fontSize":39,"color":"#111","baseline":"middle","align":"center","dy":1.5},"encoding":{"x":{"field":"x","type":"quantitative"},"y":{"field":"y","type":"quantitative"},"text":{"field":"t"}}},
{"data":{"name":"labelsL"},"mark":{"type":"text","font":"Lato","fontSize":39,"color":"#111","baseline":"middle","align":"left","dy":1.5},"encoding":{"x":{"field":"x","type":"quantitative"},"y":{"field":"y","type":"quantitative"},"text":{"field":"t"}}},
{"data":{"name":"panels"},"mark":{"type":"text","font":"Liberation Serif","fontWeight":"bold","fontSize":36,"color":"#000","baseline":"middle","align":"center"},"encoding":{"x":{"field":"x","type":"quantitative"},"y":{"field":"y","type":"quantitative"},"text":{"field":"t"}}}
]},
{"hconcat":[
{"width":801,"height":800,
"title":{"text":"Vocano plot","font":"Liberation Mono","fontWeight":"normal","fontSize":25.5,"color":"#111","anchor":"middle","dx":-14,"offset":20},
"encoding":{"x":{"type":"quantitative"},"y":{"type":"quantitative"}},
"layer":[
{"data":{"name":"env"},"transform":[{"filter":"datum.l==1"}],"mark":{"type":"area","orient":"horizontal","color":"#111","clip":true},"encoding":{"y":{"field":"y","type":"quantitative","scale":{"domain":[0,11.28],"nice":false,"zero":false},"axis":{"values":[0,2.18,4.36,6.54,8.72,10.9],"format":".3~r","grid":false,"domain":false,"tickSize":9,"tickWidth":2,"tickColor":"#111","labelFont":"Liberation Mono","labelFontSize":26,"labelColor":"#111","labelPadding":4,"title":"-log10(P-value)","titleFont":"Liberation Mono","titleFontWeight":"normal","titleFontSize":26,"titleColor":"#111","titleX":-72,"titleY":413}},"x":{"field":"p","type":"quantitative","scale":{"domain":[-12,12.93],"nice":false,"zero":false},"axis":{"values":[-12,-8,-4,0,4,8,12],"format":"d","grid":false,"domain":false,"tickSize":9,"tickWidth":2,"tickColor":"#111","labelFont":"Liberation Mono","labelFontSize":26,"labelColor":"#111","labelPadding":13,"title":"log2(FoldChange)","titleFont":"Liberation Mono","titleFontWeight":"normal","titleFontSize":26,"titleColor":"#111","titleX":386,"titleY":66}},"x2":{"field":"q"},"detail":{"field":"arm"}}},
{"data":{"name":"speckA"},"mark":{"type":"rule","color":"white","strokeWidth":2.2,"strokeDash":[3,6]},"encoding":{"y":{"field":"y","type":"quantitative"},"x":{"datum":-4},"x2":{"datum":4}}},
{"data":{"name":"speckB"},"mark":{"type":"rule","color":"white","strokeWidth":2.2,"strokeDash":[4,7],"strokeDashOffset":4},"encoding":{"y":{"field":"y","type":"quantitative"},"x":{"datum":-4},"x2":{"datum":4}}},
{"data":{"name":"env"},"transform":[{"filter":"datum.l==3"}],"mark":{"type":"area","orient":"horizontal","color":"#000"},"encoding":{"y":{"field":"y","type":"quantitative"},"x":{"field":"p","type":"quantitative"},"x2":{"field":"q"},"detail":{"field":"arm"}}},
{"data":{"name":"black"},"mark":{"type":"point","filled":true,"color":"#111","opacity":1,"size":18,"shape":"M-1,-.5H1V.5H-1Z"},"encoding":{"x":{"field":"x","type":"quantitative"},"y":{"field":"y","type":"quantitative"}}},
{"data":{"name":"blue"},"mark":{"type":"point","filled":true,"color":"#5252b8","opacity":1,"size":18,"shape":"M-1,-.5H1V.5H-1Z"},"encoding":{"x":{"field":"x","type":"quantitative"},"y":{"field":"y","type":"quantitative"}}},
{"data":{"name":"red"},"mark":{"type":"point","filled":true,"color":"#e8324a","opacity":1,"size":18,"shape":"M-1,-.5H1V.5H-1Z"},"encoding":{"x":{"field":"x","type":"quantitative"},"y":{"field":"y","type":"quantitative"}}},
{"data":{"name":"grey"},"mark":{"type":"point","filled":true,"color":"#8a6a70","opacity":1,"size":18,"shape":"M-1,-.5H1V.5H-1Z"},"encoding":{"x":{"field":"x","type":"quantitative"},"y":{"field":"y","type":"quantitative"}}},
{"data":{"values":[{"x":-4},{"x":4}]},"mark":{"type":"rule","color":"#2020a0","strokeWidth":2,"strokeDash":[6,4]},"encoding":{"x":{"field":"x","type":"quantitative"}}},
{"data":{"values":[{"y":1.3}]},"mark":{"type":"rule","color":"#2020a0","strokeWidth":2,"strokeDash":[6,4]},"encoding":{"y":{"field":"y","type":"quantitative"}}},
{"data":{"values":[{"a":-12,"b":12.93,"t":0,"u":11.28}]},"mark":{"type":"rect","fill":null,"stroke":"#111","strokeWidth":2.5},"encoding":{"x":{"field":"a","type":"quantitative"},"x2":{"field":"b"},"y":{"field":"t","type":"quantitative"},"y2":{"field":"u"}}}
]},
{"width":867,"height":1005,
"layer":[
{"data":{"name":"heat"},"mark":{"type":"rect"},"encoding":{"x":{"field":"a","type":"quantitative","scale":{"domain":[-372,495],"nice":false,"zero":false},"axis":null},"x2":{"field":"b"},"y":{"field":"t","type":"quantitative","scale":{"domain":[-283,722],"reverse":true,"nice":false,"zero":false},"axis":null},"y2":{"field":"u"},"color":{"field":"v","type":"quantitative","legend":null,"scale":{"domain":[-1,0,1],"range":["#4646ff","#ffffff","#ff4040"]}}}},
{"data":{"name":"seg"},"mark":{"type":"rule","color":"#555","strokeWidth":1.6},"encoding":{"x":{"field":"a","type":"quantitative"},"x2":{"field":"b"},"y":{"field":"t","type":"quantitative"},"y2":{"field":"u"}}},
{"data":{"name":"leaf"},"mark":{"type":"rule","color":"#333","strokeWidth":1.6},"encoding":{"x":{"field":"a","type":"quantitative"},"x2":{"datum":-10},"y":{"field":"y","type":"quantitative"}}},
{"data":{"values":[{"a":-16,"b":-10,"t":0,"u":718}]},"mark":{"type":"rect","color":"#222"},"encoding":{"x":{"field":"a","type":"quantitative"},"x2":{"field":"b"},"y":{"field":"t","type":"quantitative"},"y2":{"field":"u"}}},
{"data":{"name":"dgram"},"mark":{"type":"rule","color":"#666","strokeWidth":2},"encoding":{"x":{"field":"a","type":"quantitative"},"x2":{"field":"b"},"y":{"field":"t","type":"quantitative"},"y2":{"field":"u"}}},
{"data":{"values":[{"a":39,"b":389,"t":-354,"u":-334}]},"mark":{"type":"rect","fill":{"gradient":"linear","x1":0,"x2":1,"y1":0,"y2":0,"stops":[{"offset":0,"color":"#0a0a78"},{"offset":0.08,"color":"#1c1cb8"},{"offset":0.12,"color":"#3333ff"},{"offset":0.33,"color":"#8888f0"},{"offset":0.5,"color":"#ffffff"},{"offset":0.62,"color":"#eeb8b8"},{"offset":0.85,"color":"#ff5050"},{"offset":1,"color":"#ff0000"}]}},"encoding":{"x":{"field":"a","type":"quantitative"},"x2":{"field":"b"},"y":{"field":"t","type":"quantitative"},"y2":{"field":"u"}}},
{"data":{"name":"cols"},"mark":{"type":"text","font":"Liberation Sans","fontSize":30,"angle":270,"align":"left","baseline":"middle","color":"#111"},"encoding":{"x":{"field":"x","type":"quantitative"},"y":{"field":"y","type":"quantitative"},"text":{"field":"t"}}},
{"data":{"name":"notes"},"mark":{"type":"text","font":"Liberation Sans","fontSize":20,"align":"center","baseline":"middle","color":"#222"},"encoding":{"x":{"field":"x","type":"quantitative"},"y":{"field":"y","type":"quantitative"},"text":{"field":"t"}}}
]}
],"spacing":0,"bounds":"flush","resolve":{"scale":{"x":"independent","y":"independent"}}}
]}
